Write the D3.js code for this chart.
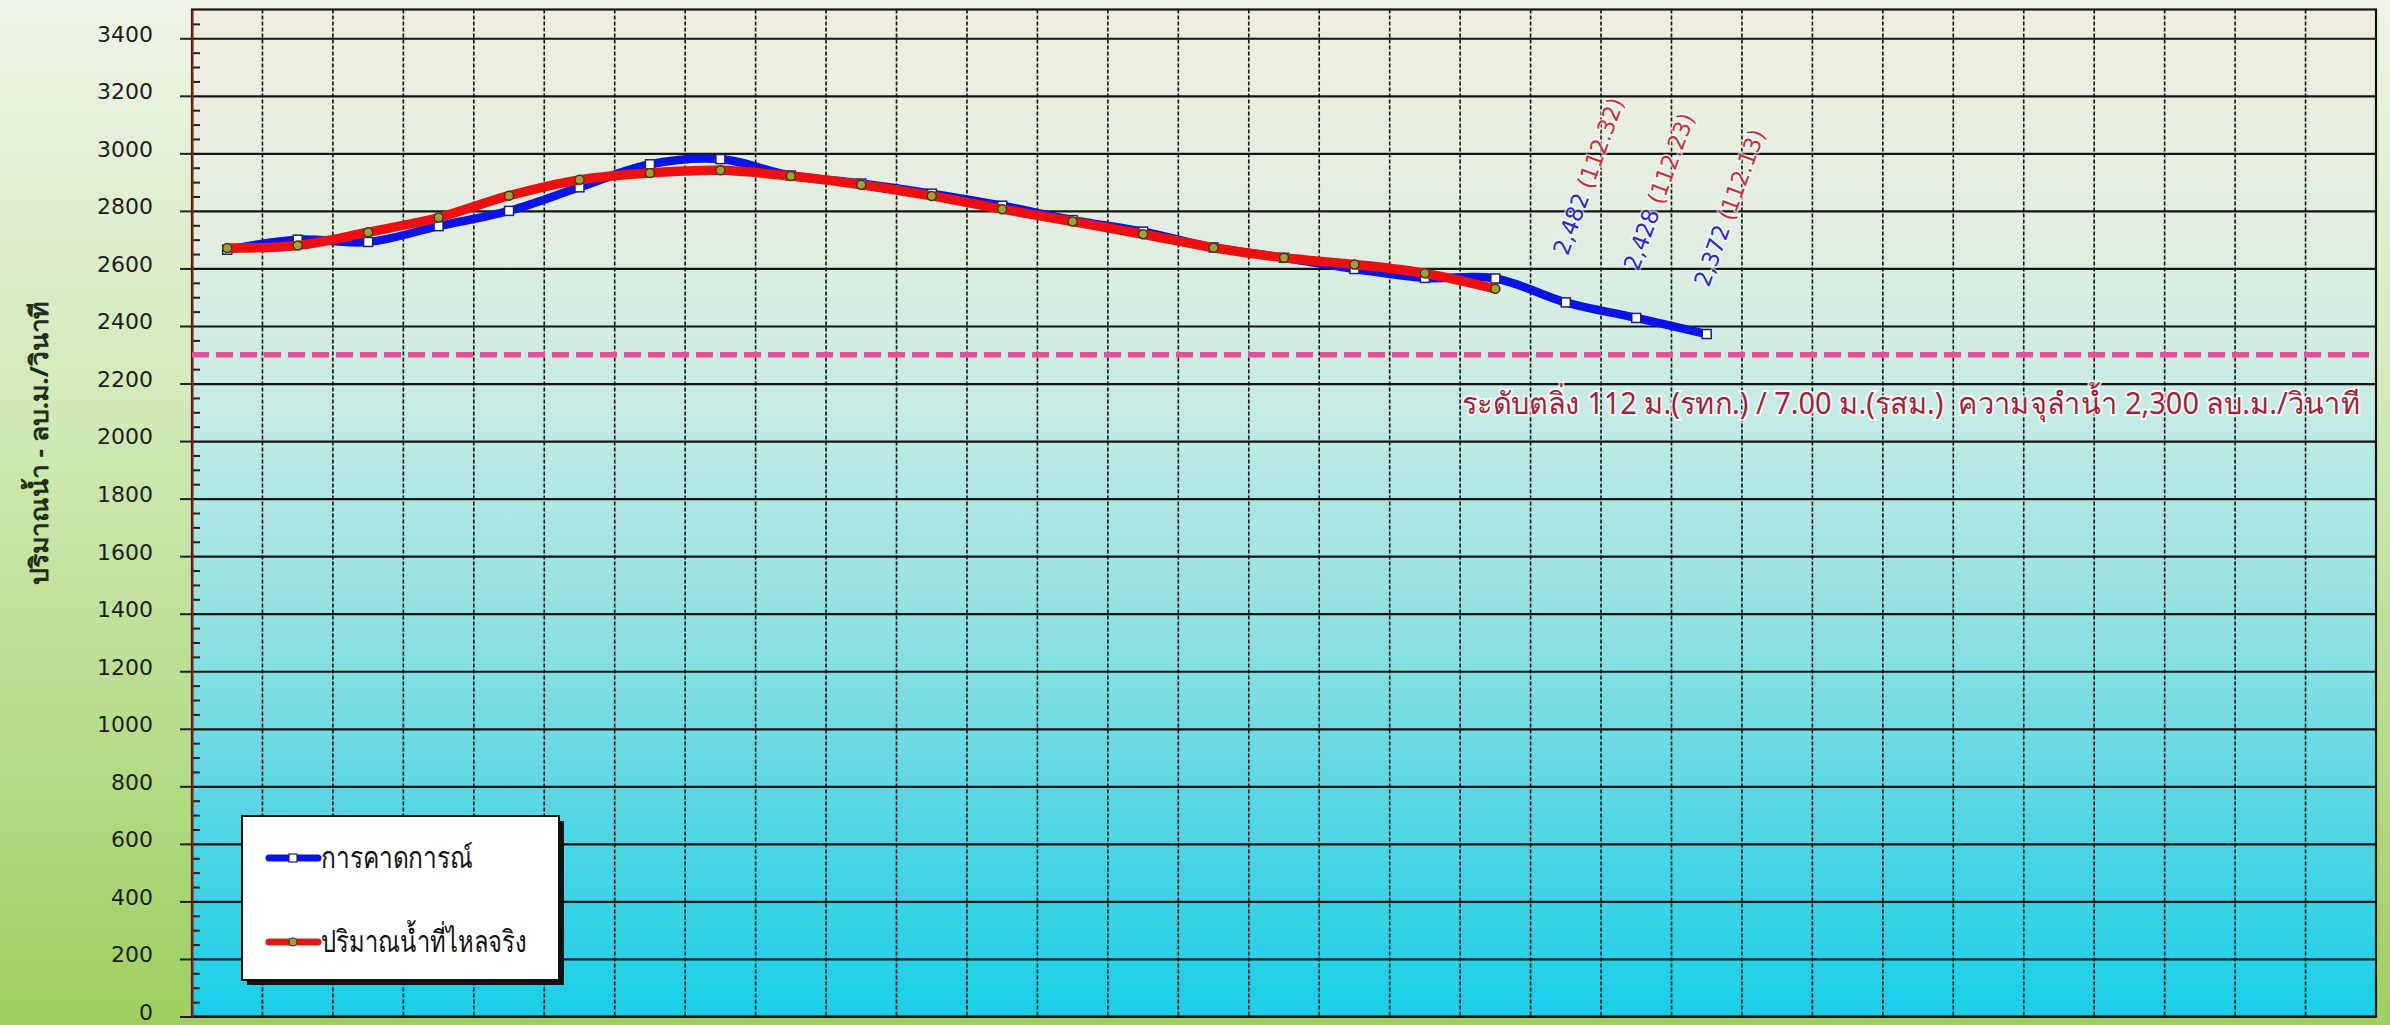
<!DOCTYPE html>
<html>
<head>
<meta charset="utf-8">
<script src="https://cdn.jsdelivr.net/npm/d3@7"></script>
<style>
  body { margin: 0; overflow: hidden; }
  svg { display: block; }
</style>
</head>
<body>
<div id="chart"></div>
<script>
// day of month (category axis, no labels shown)
const days = [1,2,3,4,5,6,7,8,9,10,11,12,13,14,15,16,17,18,19,20,21,22,23,24,25,26,27,28,29,30,31];
// forecast discharge (m3/s)
const forecast = [2665,2700,2692,2747,2800,2882,2962,2980,2923,2895,2860,2818,2768,2728,2673,2637,2598,2567,2565,2482,2428,2372];
// observed discharge (m3/s)
const actual = [2671,2680,2726,2777,2853,2908,2932,2941,2921,2891,2852,2806,2763,2719,2672,2637,2614,2583,2529];
// water levels written next to the last three forecast points
const levelIdx = [19,20,21];
const levels = ["(112.32)","(112.23)","(112.13)"];
const yTicks = [0,200,400,600,800,1000,1200,1400,1600,1800,2000,2200,2400,2600,2800,3000,3200,3400];
const bankFull = 2300;
const bankText = "ระดับตลิ่ง 112 ม.(รทก.) / 7.00 ม.(รสม.)  ความจุลำน้ำ 2,300 ลบ.ม./วินาที";
const yTitle = "ปริมาณน้ำ - ลบ.ม./วินาที";
const seriesNames = ["การคาดการณ์", "ปริมาณน้ำที่ไหลจริง"];

let width = 2390,
    height = 1025,
    margin = ({ top: 9.5, right: 14, bottom: 8.5, left: 192 });

const svg = d3.select("#chart")
  .append("svg")
  .attr("width", width)
  .attr("height", height);

const defs = svg.append("defs");

const pageGrad = defs.append("linearGradient").attr("id", "pageBg")
  .attr("x1", 0).attr("y1", 0).attr("x2", 0).attr("y2", 1);
pageGrad.append("stop").attr("offset", "0%").attr("stop-color", "#eef4e8");
pageGrad.append("stop").attr("offset", "35%").attr("stop-color", "#d6ebbd");
pageGrad.append("stop").attr("offset", "65%").attr("stop-color", "#bcdf94");
pageGrad.append("stop").attr("offset", "100%").attr("stop-color", "#9fcf60");

const plotGrad = defs.append("linearGradient").attr("id", "plotBg")
  .attr("x1", 0).attr("y1", 0).attr("x2", 0).attr("y2", 1);
plotGrad.append("stop").attr("offset", "0%").attr("stop-color", "#efeee0");
plotGrad.append("stop").attr("offset", "22%").attr("stop-color", "#e2eee0");
plotGrad.append("stop").attr("offset", "40%").attr("stop-color", "#c4ebe4");
plotGrad.append("stop").attr("offset", "62%").attr("stop-color", "#8fe0e2");
plotGrad.append("stop").attr("offset", "80%").attr("stop-color", "#55d6e3");
plotGrad.append("stop").attr("offset", "100%").attr("stop-color", "#18cfe8");

svg.append("rect").attr("width", width).attr("height", height).attr("fill", "url(#pageBg)");

let x = d3.scaleBand()
  .domain(days)
  .range([margin.left, width - margin.right]);

let y = d3.scaleLinear()
  .domain([0, 3500])
  .range([height - margin.bottom, margin.top]);

const cx = i => x(days[i]) + x.bandwidth() / 2;

svg.append("rect")
  .attr("x", margin.left).attr("y", margin.top)
  .attr("width", width - margin.left - margin.right)
  .attr("height", height - margin.top - margin.bottom)
  .attr("fill", "url(#plotBg)");

// vertical dashed gridlines at category boundaries
svg.append("g")
  .selectAll("line")
  .data(days.slice(1))
  .join("line")
  .attr("x1", d => x(d)).attr("x2", d => x(d))
  .attr("y1", margin.top).attr("y2", height - margin.bottom)
  .attr("stroke", "#111")
  .attr("stroke-width", 1.6)
  .attr("stroke-dasharray", "4,2");

// horizontal gridlines
svg.append("g")
  .attr("transform", `translate(${margin.left},0)`)
  .attr("class", "y-grid")
  .call(d3.axisLeft(y).tickValues(yTicks).tickSize(-(width - margin.left - margin.right)).tickFormat(""))
  .call(g => g.select(".domain").remove())
  .call(g => g.selectAll("line").attr("stroke", "#151515").attr("stroke-width", 2.2));

// plot border
svg.append("rect")
  .attr("x", margin.left).attr("y", margin.top)
  .attr("width", width - margin.left - margin.right)
  .attr("height", height - margin.top - margin.bottom)
  .attr("fill", "none").attr("stroke", "#151515").attr("stroke-width", 2.2);

// minor ticks (inside)
const minor = d3.range(50, 3500, 50).filter(v => v % 200 !== 0);
svg.append("g")
  .attr("transform", `translate(${margin.left},0)`)
  .call(d3.axisLeft(y).tickValues(minor).tickSize(-8).tickFormat(""))
  .call(g => g.select(".domain").remove())
  .call(g => g.selectAll("line").attr("stroke", "#222").attr("stroke-width", 2));

// y axis
svg.append("g")
  .attr("transform", `translate(${margin.left},0)`)
  .attr("class", "y-axis")
  .call(d3.axisLeft(y).tickValues(yTicks).tickSize(12).tickPadding(27).tickSizeOuter(0).tickFormat(d3.format("d")))
  .call(g => g.select(".domain").attr("stroke", "#8a1c1c").attr("stroke-width", 2))
  .call(g => g.selectAll(".tick line").attr("stroke", "#222").attr("stroke-width", 2))
  .call(g => g.selectAll(".tick text")
    .attr("fill", "#1d1d1d")
    .style("font-family", "'DejaVu Sans', sans-serif")
    .style("font-size", "22px")
    .attr("y", -5)
    .attr("dy", "0.36em"));

svg.append("text")
  .attr("transform", `translate(48,443) rotate(-90)`)
  .attr("text-anchor", "middle")
  .attr("fill", "#1e2e18")
  .attr("textLength", 283)
  .attr("lengthAdjust", "spacingAndGlyphs")
  .style("font-family", "'Noto Sans', 'DejaVu Sans', sans-serif")
  .style("font-size", "25px")
  .style("font-weight", "bold")
  .text(yTitle);

// bank-full line
svg.append("line")
  .attr("x1", margin.left).attr("x2", width - margin.right)
  .attr("y1", y(bankFull)).attr("y2", y(bankFull))
  .attr("stroke", "#e2509a")
  .attr("stroke-width", 5.5)
  .attr("stroke-dasharray", "17,7");

svg.append("text")
  .attr("x", 1462).attr("y", y(bankFull) + 59)
  .attr("fill", "#ad1c36")
  .attr("stroke", "rgba(255,255,255,0.75)")
  .attr("stroke-width", 4)
  .attr("paint-order", "stroke")
  .attr("textLength", 898)
  .attr("lengthAdjust", "spacingAndGlyphs")
  .style("white-space", "pre")
  .style("font-family", "'Noto Sans', 'DejaVu Sans', sans-serif")
  .style("font-size", "30px")
  .text(bankText);

const line = d3.line()
  .x((d, i) => cx(i))
  .y(d => y(d))
  .curve(d3.curveCatmullRom.alpha(0.5));

// forecast series
svg.append("path")
  .datum(forecast)
  .attr("d", line)
  .attr("fill", "none")
  .attr("stroke", "#0a14e6")
  .attr("stroke-width", 8.5)
  .attr("stroke-linejoin", "round");

svg.append("g")
  .selectAll("rect")
  .data(forecast)
  .join("rect")
  .attr("x", (d, i) => cx(i) - 4.5)
  .attr("y", d => y(d) - 4.5)
  .attr("width", 9).attr("height", 9)
  .attr("fill", "#fff")
  .attr("stroke", "#1a2370")
  .attr("stroke-width", 1.5);

// observed series
svg.append("path")
  .datum(actual)
  .attr("d", line)
  .attr("fill", "none")
  .attr("stroke", "#ee1010")
  .attr("stroke-width", 9.5)
  .attr("stroke-linejoin", "round");

svg.append("g")
  .selectAll("circle")
  .data(actual)
  .join("circle")
  .attr("cx", (d, i) => cx(i))
  .attr("cy", d => y(d))
  .attr("r", 4.5)
  .attr("fill", "#a0a038")
  .attr("stroke", "#3a3a12")
  .attr("stroke-width", 1.5);

// rotated labels for the last forecast points
const fmt = d3.format(",");
const lab = svg.append("g")
  .selectAll("text")
  .data(levelIdx)
  .join("text")
  .attr("transform", i => `translate(${cx(i) + 2},${y(forecast[i]) - 46}) rotate(-70)`)
  .attr("stroke", "rgba(255,255,255,0.6)")
  .attr("stroke-width", 3)
  .attr("paint-order", "stroke")
  .attr("textLength", 165)
  .attr("lengthAdjust", "spacingAndGlyphs")
  .style("font-family", "'DejaVu Sans Condensed', 'DejaVu Sans', sans-serif")
  .style("font-size", "23px");
lab.append("tspan").attr("fill", "#2a2ac8").text(i => fmt(forecast[i]) + " ");
lab.append("tspan").attr("fill", "#c8303c").text((i, k) => levels[k]);

// legend
const lg = svg.append("g").attr("transform", "translate(242,816)");
lg.append("rect").attr("x", 5).attr("y", 5).attr("width", 317).attr("height", 164).attr("fill", "#111");
lg.append("rect").attr("width", 317).attr("height", 164).attr("fill", "#fff").attr("stroke", "#111").attr("stroke-width", 2);

const legendRows = [
  { name: seriesNames[0], color: "#0a14e6", y: 42, mark: "square", len: 152 },
  { name: seriesNames[1], color: "#e01818", y: 126, mark: "circle", len: 206 }
];
for (let r of legendRows) {
  lg.append("line")
    .attr("x1", 27).attr("x2", 76).attr("y1", r.y).attr("y2", r.y)
    .attr("stroke", r.color).attr("stroke-width", 7).attr("stroke-linecap", "round");
  if (r.mark === "square") {
    lg.append("rect").attr("x", 47).attr("y", r.y - 4).attr("width", 8).attr("height", 8)
      .attr("fill", "#fff").attr("stroke", "#1a2370").attr("stroke-width", 1.2);
  } else {
    lg.append("circle").attr("cx", 51).attr("cy", r.y).attr("r", 4)
      .attr("fill", "#a0a038").attr("stroke", "#3a3a12").attr("stroke-width", 1.2);
  }
  lg.append("text")
    .attr("x", 79).attr("y", r.y)
    .attr("dy", "0.32em")
    .attr("fill", "#111")
    .attr("textLength", r.len)
    .attr("lengthAdjust", "spacingAndGlyphs")
    .style("font-family", "'Noto Sans', 'DejaVu Sans', sans-serif")
    .style("font-size", "30px")
    .text(r.name);
}
</script>
</body>
</html>
